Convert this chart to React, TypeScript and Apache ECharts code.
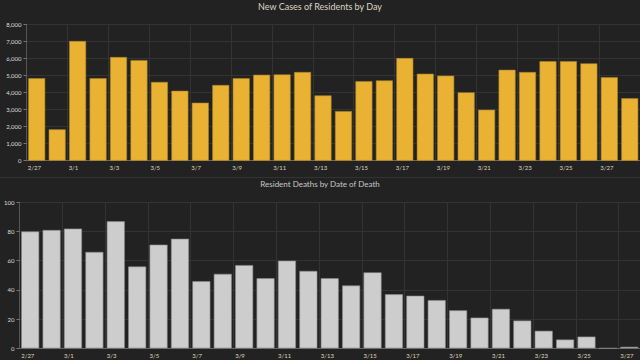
import React, { useEffect, useRef } from "react";
import * as echarts from "echarts";

const caseDates = ["2/27","2/28","3/1","3/2","3/3","3/4","3/5","3/6","3/7","3/8","3/9","3/10","3/11","3/12","3/13","3/14","3/15","3/16","3/17","3/18","3/19","3/20","3/21","3/22","3/23","3/24","3/25","3/26","3/27","3/28"];
const caseValues = [4840,1840,7020,4840,6080,5900,4620,4100,3400,4440,4840,5040,5060,5200,3830,2910,4670,4710,6020,5100,4990,4010,2990,5330,5200,5840,5840,5710,4900,3660];

const deathDates = ["2/27","2/28","3/1","3/2","3/3","3/4","3/5","3/6","3/7","3/8","3/9","3/10","3/11","3/12","3/13","3/14","3/15","3/16","3/17","3/18","3/19","3/20","3/21","3/22","3/23","3/24","3/25","3/26","3/27"];
const deathValues = [80,81,82,66,87,56,71,75,46,51,57,48,60,53,48,43,52,37,36,33,26,21,27,19,12,6,8,0,1];

const FONT = "Lato, 'Open Sans', sans-serif";

export default function App() {
  const ref = useRef<HTMLDivElement>(null);
  useEffect(() => {
    if (!ref.current) return;
    const chart = echarts.init(ref.current, null, { renderer: "svg" });
    const splitStyle = { color: "#333333", width: 1 };
    chart.setOption({
      animation: false,
      backgroundColor: "#222222",
      textStyle: { fontFamily: FONT },
      title: [
        {
          text: "New Cases of Residents by Day",
          left: "center",
          top: 2,
          padding: 0,
          textStyle: { color: "#dcd6c2", fontSize: 9, fontWeight: "normal", fontFamily: FONT },
        },
        {
          text: "Resident Deaths by Date of Death",
          left: "center",
          top: 180,
          padding: 0,
          textStyle: { color: "#c8c8c8", fontSize: 8, fontWeight: "normal", fontFamily: FONT },
        },
      ],
      graphic: [
        {
          type: "line",
          shape: { x1: 0, y1: 177.5, x2: 640, y2: 177.5 },
          style: { stroke: "#333333", lineWidth: 1 },
        },
      ],
      grid: [
        { left: 26.5, right: 0, top: 24.3, height: 136.4, containLabel: false },
        { left: 19.5, right: 0, top: 202.3, height: 146, containLabel: false },
      ],
      xAxis: [
        {
          type: "category",
          gridIndex: 0,
          data: caseDates,
          axisLine: { lineStyle: { color: "#666666" } },
          axisTick: { show: false },
          axisLabel: {
            interval: 1,
            color: "#ddd6b8",
            fontSize: 6,
            margin: 4,
            align: "left",
            padding: [0, 0, 0, -9],
            fontFamily: FONT,
          },
          splitLine: { show: true, interval: 1, lineStyle: splitStyle },
        },
        {
          type: "category",
          gridIndex: 1,
          data: deathDates,
          axisLine: { lineStyle: { color: "#666666" } },
          axisTick: { show: false },
          axisLabel: {
            interval: 1,
            color: "#ddd6b8",
            fontSize: 6,
            margin: 4,
            align: "left",
            padding: [0, 0, 0, -9],
            fontFamily: FONT,
          },
          splitLine: { show: true, interval: 1, lineStyle: splitStyle },
        },
      ],
      yAxis: [
        {
          type: "value",
          gridIndex: 0,
          min: 0,
          max: 8000,
          interval: 1000,
          axisLine: { show: true, lineStyle: { color: "#555555" } },
          axisTick: { show: true, length: 3, lineStyle: { color: "#777777" } },
          axisLabel: {
            color: "#dddddd",
            fontSize: 6,
            margin: 5,
            fontFamily: FONT,
            formatter: (v: number) => v.toLocaleString("en-US"),
          },
          splitLine: { show: true, lineStyle: splitStyle },
        },
        {
          type: "value",
          gridIndex: 1,
          min: 0,
          max: 100,
          interval: 20,
          axisLine: { show: true, lineStyle: { color: "#555555" } },
          axisTick: { show: true, length: 3, lineStyle: { color: "#777777" } },
          axisLabel: { color: "#dddddd", fontSize: 6, margin: 5, fontFamily: FONT },
          splitLine: { show: true, lineStyle: splitStyle },
        },
      ],
      series: [
        {
          type: "bar",
          xAxisIndex: 0,
          yAxisIndex: 0,
          data: caseValues,
          barCategoryGap: "17%",
          itemStyle: { color: "#e9b233", borderColor: "#a8832a", borderWidth: 0.6 },
        },
        {
          type: "bar",
          xAxisIndex: 1,
          yAxisIndex: 1,
          data: deathValues,
          barCategoryGap: "16%",
          itemStyle: { color: "#cdcdcd", borderColor: "#8a8a8a", borderWidth: 0.6 },
        },
      ],
    });
    return () => chart.dispose();
  }, []);
  return (
    <div
      ref={ref}
      style={{ position: "fixed", left: 0, top: 0, width: 640, height: 360 }}
    />
  );
}
